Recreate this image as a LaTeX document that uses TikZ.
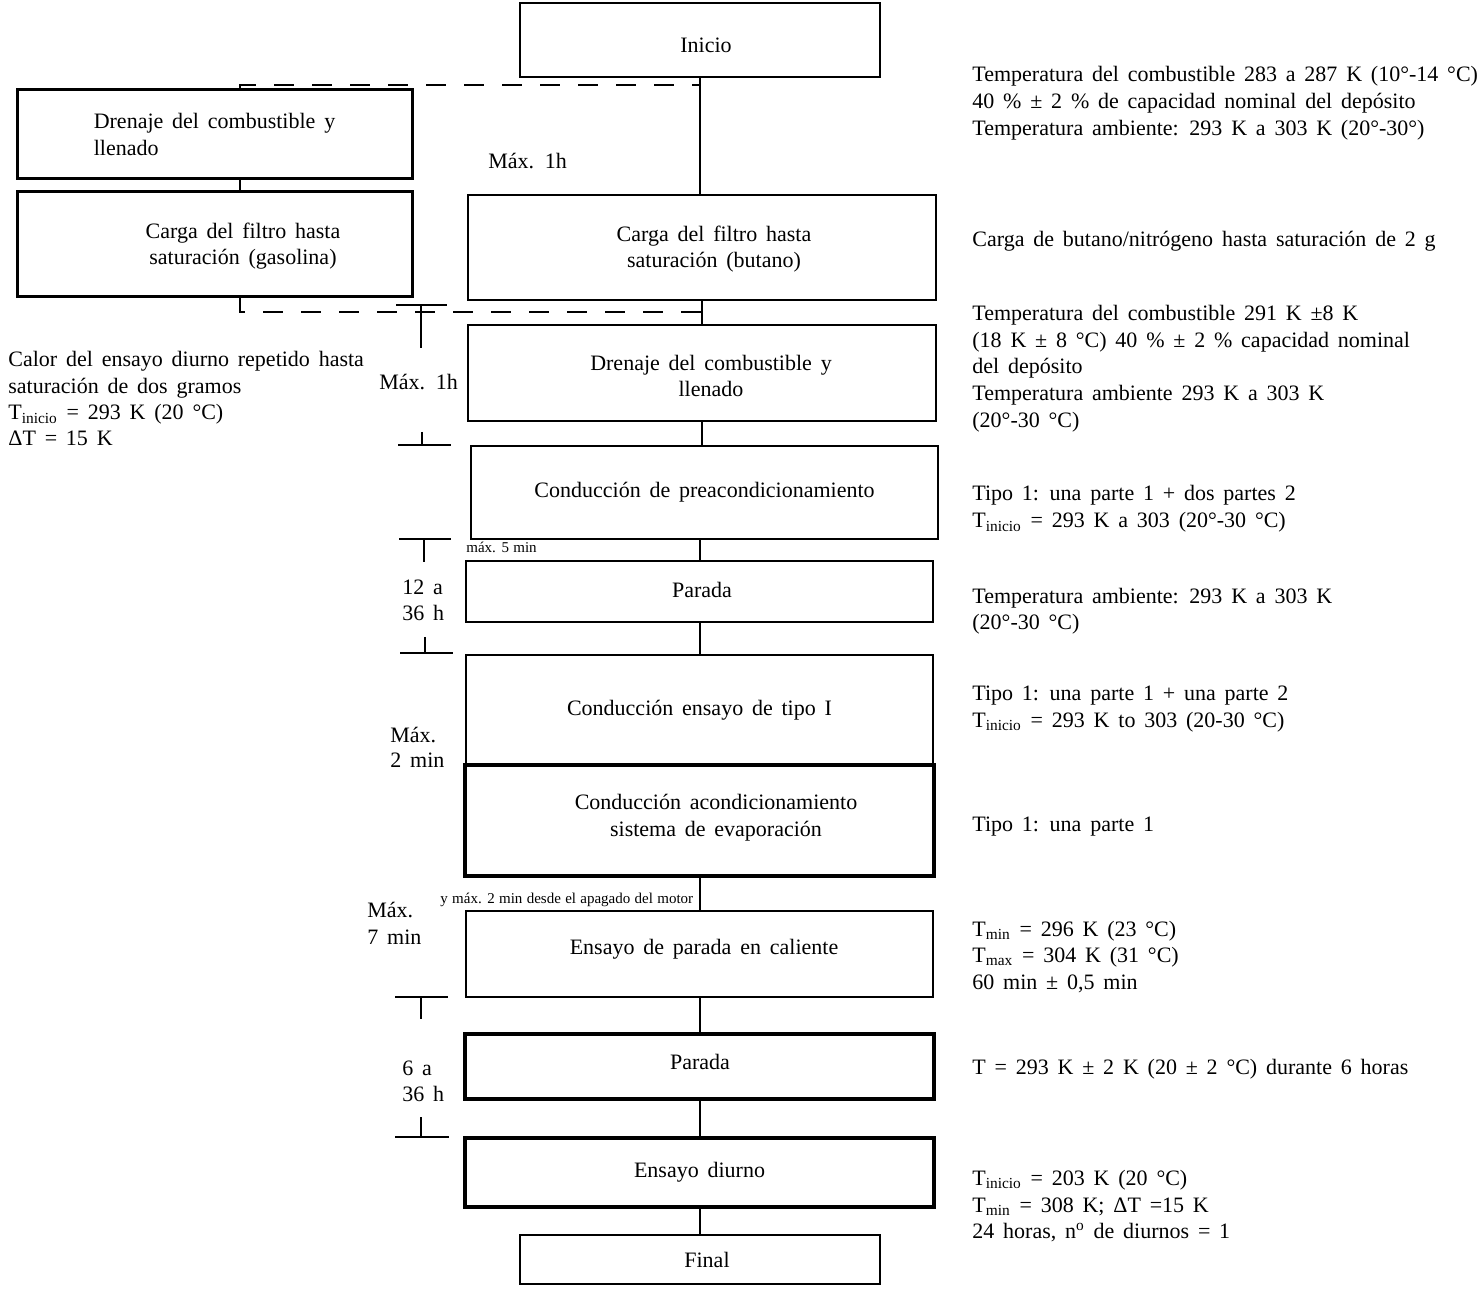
\documentclass[tikz,border=0pt]{standalone}
\usepackage{fontspec}
\setmainfont{Liberation Serif}[WordSpace=1.6]
\newfontfamily\smallfam{Liberation Serif}[WordSpace=1.15]
\newcommand\mainfs{\fontsize{11}{13.35}\selectfont}
\newcommand\smallfs{\smallfam\fontsize{7.5}{9}\selectfont}
\begin{document}
\begin{tikzpicture}[x=0.5pt,y=-0.5pt,
  box/.style={draw,line width=1pt,inner sep=0pt,align=center,font=\mainfs},
  tbox/.style={box,line width=2pt},
  mbox/.style={box,line width=1.5pt},
  txt/.style={inner sep=0pt,anchor=base west,font=\mainfs},
  ctxt/.style={inner sep=0pt,align=center,font=\mainfs},
  stxt/.style={inner sep=0pt,anchor=base west,font=\smallfs},
  conn/.style={line width=1pt},
  tconn/.style={line width=0.6pt},
  dconn/.style={line width=0.8pt,dash pattern=on 10pt off 9pt},
  dconnb/.style={line width=1.4pt,dash pattern=on 10pt off 9pt},
  tick/.style={line width=1pt}]
\useasboundingbox (0,0) rectangle (1484,1304);

% ---- boxes ----
\node[box,minimum width=180pt,minimum height=37pt] (inicio) at (700,40) {};
\node[ctxt] (iniciot) at (706,45) {Inicio};
\node[mbox,minimum width=197.5pt,minimum height=44.5pt,align=left] (drenL) at (214.5,134.5) {Drenaje del combustible y\\llenado};
\node[mbox,minimum width=197.5pt,minimum height=52.5pt] (cargaL) at (214.5,244.5) {};
\node[ctxt] (cargaLt) at (243,246) {Carga del filtro hasta\\saturación (gasolina)};
\node[box,minimum width=234pt,minimum height=52.5pt] (cargaB) at (702,247.5) {};
\node[ctxt] (cargaBt) at (714,249) {Carga del filtro hasta\\saturación (butano)};
\node[box,minimum width=234pt,minimum height=48pt] (drenM) at (702,373) {};
\node[ctxt] (drenMt) at (711,376) {Drenaje del combustible y\\llenado};
\node[box,minimum width=233.5pt,minimum height=46.5pt] (precond) at (704.5,492.5) {Conducción de preacondicionamiento};
\node[box,minimum width=233.5pt,minimum height=30.5pt] (parada1) at (699.5,591.5) {};
\node[ctxt] (parada1t) at (702,590) {Parada};
\node[box,minimum width=233.5pt,minimum height=55pt] (condI) at (699.5,710) {Conducción ensayo de tipo I};
\node[tbox,minimum width=234.5pt,minimum height=55.5pt] (condA) at (699.5,820.5) {};
\node[ctxt] (condAt) at (716,817.5) {Conducción acondicionamiento\\sistema de evaporación};
\node[box,minimum width=233.5pt,minimum height=43pt] (caliente) at (699.5,954) {};
\node[ctxt] (calientet) at (704,949) {Ensayo de parada en caliente};
\node[tbox,minimum width=234.5pt,minimum height=32.5pt] (parada2) at (699.5,1066.5) {};
\node[ctxt] (parada2t) at (700,1062) {Parada};
\node[tbox,minimum width=234.5pt,minimum height=34.5pt] (diurno) at (699.5,1172.5) {Ensayo diurno};
\node[box,minimum width=180pt,minimum height=24.5pt] (final) at (700,1259.5) {};
\node[ctxt] (finalt) at (707,1260) {Final};

% ---- connectors ----
\draw[conn] (inicio.south) -- (inicio.south |- cargaB.north);
\coordinate (lA) at (240,178);
\coordinate (lB) at (240,192);
\draw[conn] (lA) -- (lB);
\draw[tconn] (cargaB.south) -- (drenM.north);
\draw[tconn] (drenM.south) -- (drenM.south |- precond.north);
\draw[conn] (parada1.north |- precond.south) -- (parada1.north);
\draw[conn] (parada1.south) -- (condI.north);
\draw[conn] (condA.south) -- (caliente.north);
\draw[conn] (caliente.south) -- (parada2.north);
\draw[conn] (parada2.south) -- (diurno.north);
\draw[conn] (diurno.south) -- (diurno.south |- final.north);

% ---- dashed links ----
\coordinate (dA) at (240,89);
\coordinate (dB) at (240,85);
\coordinate (dC) at (700,85);
\draw[dconn] (dA) -- (dB) -- (dC);
\coordinate (eA) at (240,297);
\coordinate (eB) at (240,312);
\coordinate (eC) at (702,312);
\draw[dconnb] (eA) -- (eB) -- (eC);

% ---- time ticks ----
\draw[tick] (396,305) -- (447,305) (421,305) -- (421,348);
\draw[tick] (398,445) -- (451,445) (422,432) -- (422,445);
\draw[tick] (399,539) -- (451,539) (424,539) -- (424,562);
\draw[tick] (400,653) -- (453,653) (425,637) -- (425,653);
\draw[tick] (395,997) -- (448,997) (421,997) -- (421,1019);
\draw[tick] (395,1137) -- (449,1137) (421,1117) -- (421,1137);

% ---- time labels ----
\node[txt] (t0) at (488,169) {Máx. 1h};
\node[txt] (t1) at (379,390) {Máx. 1h};
\node[txt] (t2a) at (402,595) {12 a};
\node[txt] (t2b) at (402,621) {36 h};
\node[txt] (t3a) at (390,742) {Máx.};
\node[txt] (t3b) at (390,768) {2 min};
\node[txt] (t4a) at (367,917) {Máx.};
\node[txt] (t4b) at (367,944) {7 min};
\node[txt] (t5a) at (402,1075) {6 a};
\node[txt] (t5b) at (402,1101) {36 h};
\node[stxt] (s1) at (466,553) {máx. 5 min};
\node[stxt] (s2) at (440,903) {y máx. 2 min desde el apagado del motor};

% ---- left notes ----
\node[txt] (l1) at (8,367) {Calor del ensayo diurno repetido hasta};
\node[txt] (l2) at (8,394) {saturación de dos gramos};
\node[txt] (l3) at (8,420) {T\textsubscript{inicio} = 293 K (20 °C)};
\node[txt] (l4) at (8,446) {ΔT = 15 K};

% ---- right notes ----
\node[txt] (r1a) at (972,82) {Temperatura del combustible 283 a 287 K (10°-14 °C)};
\node[txt] (r1b) at (972,109) {40 \% ± 2 \% de capacidad nominal del depósito};
\node[txt] (r1c) at (972,136) {Temperatura ambiente: 293 K a 303 K (20°-30°)};
\node[txt] (r2) at (972,247) {Carga de butano/nitrógeno hasta saturación de 2 g};
\node[txt] (r3a) at (972,321) {Temperatura del combustible 291 K ±8 K};
\node[txt] (r3b) at (972,348) {(18 K ± 8 °C) 40 \% ± 2 \% capacidad nominal};
\node[txt] (r3c) at (972,374) {del depósito};
\node[txt] (r3d) at (972,401) {Temperatura ambiente 293 K a 303 K};
\node[txt] (r3e) at (972,428) {(20°-30 °C)};
\node[txt] (r4a) at (972,501) {Tipo 1: una parte 1 + dos partes 2};
\node[txt] (r4b) at (972,528) {T\textsubscript{inicio} = 293 K a 303 (20°-30 °C)};
\node[txt] (r5a) at (972,604) {Temperatura ambiente: 293 K a 303 K};
\node[txt] (r5b) at (972,630) {(20°-30 °C)};
\node[txt] (r6a) at (972,701) {Tipo 1: una parte 1 + una parte 2};
\node[txt] (r6b) at (972,727) {T\textsubscript{inicio} = 293 K to 303 (20-30 °C)};
\node[txt] (r7) at (972,831) {Tipo 1: una parte 1};
\node[txt] (r8a) at (972,936) {T\textsubscript{min} = 296 K (23 °C)};
\node[txt] (r8b) at (972,962) {T\textsubscript{max} = 304 K (31 °C)};
\node[txt] (r8c) at (972,989) {60 min ± 0,5 min};
\node[txt] (r9) at (972,1074) {T = 293 K ± 2 K (20 ± 2 °C) durante 6 horas};
\node[txt] (r10a) at (972,1185) {T\textsubscript{inicio} = 203 K (20 °C)};
\node[txt] (r10b) at (972,1212) {T\textsubscript{min} = 308 K; ΔT =15 K};
\node[txt] (r10c) at (972,1238) {24 horas, n\textsuperscript{o} de diurnos = 1};
\end{tikzpicture}
\end{document}
